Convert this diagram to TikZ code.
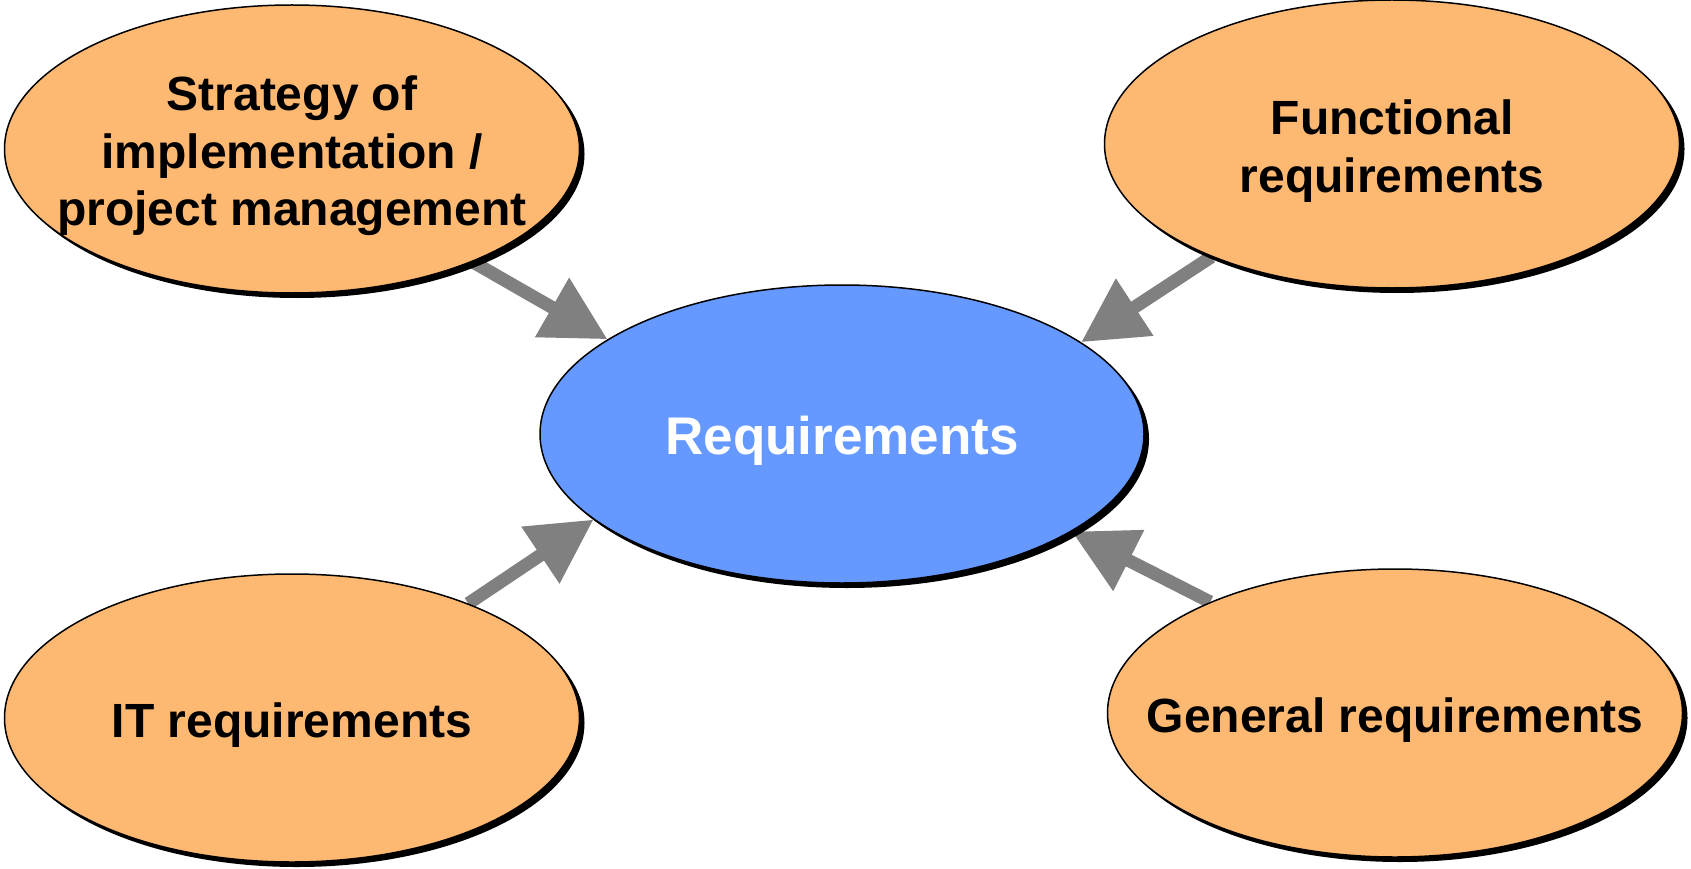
\documentclass[tikz,border=0pt]{standalone}
\usepackage{fontspec}
\setmainfont{Liberation Sans}
\usetikzlibrary{shapes.geometric,shadows,arrows.meta,backgrounds}
\definecolor{orangefill}{HTML}{FDB872}
\definecolor{bluefill}{HTML}{6699FF}
\definecolor{arrowgray}{HTML}{808080}
\begin{document}
\begin{tikzpicture}[x=1pt,y=-1pt,
  blob/.style={ellipse, draw=black, line width=1.5pt, inner sep=0pt,
    drop shadow={shadow xshift=5pt, shadow yshift=-5pt, fill=black, opacity=1}},
  outer/.style={blob, fill=orangefill, minimum width=575pt, minimum height=288pt},
  inner/.style={blob, fill=bluefill, minimum width=604pt, minimum height=298pt},
  txt/.style={font=\fontsize{48}{57.6}\selectfont\bfseries, align=center, text=black, yshift=-7pt},
  ctxt/.style={font=\fontsize{53}{63}\selectfont\bfseries, align=center, text=white, yshift=-7pt},
  conn/.style={draw=arrowgray, line width=13pt, -{Triangle[length=64pt,width=65pt]}}]
\useasboundingbox (0,0) rectangle (1691,869);
\node[inner] (c) at (842,434) {};
\node[outer] (tl) at (292,149) {};
\node[outer] (tr) at (1392,144) {};
\node[outer] (bl) at (292,718) {};
\node[outer] (br) at (1395,713) {};
\node[ctxt] (ct) at (c) {Requirements};
\node[txt] (tlt) at (tl) {Strategy of\\implementation /\\project management};
\node[txt] (trt) at (tr) {Functional\\requirements};
\node[txt] (blt) at (bl) {IT requirements};
\node[txt] (brt) at (br) {General requirements};
\begin{scope}[on background layer]
\draw[conn] (tl.-32.7) -- (c.158.2);
\draw[conn] (tr.212.7) -- (c.21.7);
\draw[conn] (bl.33.8) -- (c.199.5);
\draw[conn] (br.149.5) -- (c.-23.4);
\end{scope}
\end{tikzpicture}
\end{document}
